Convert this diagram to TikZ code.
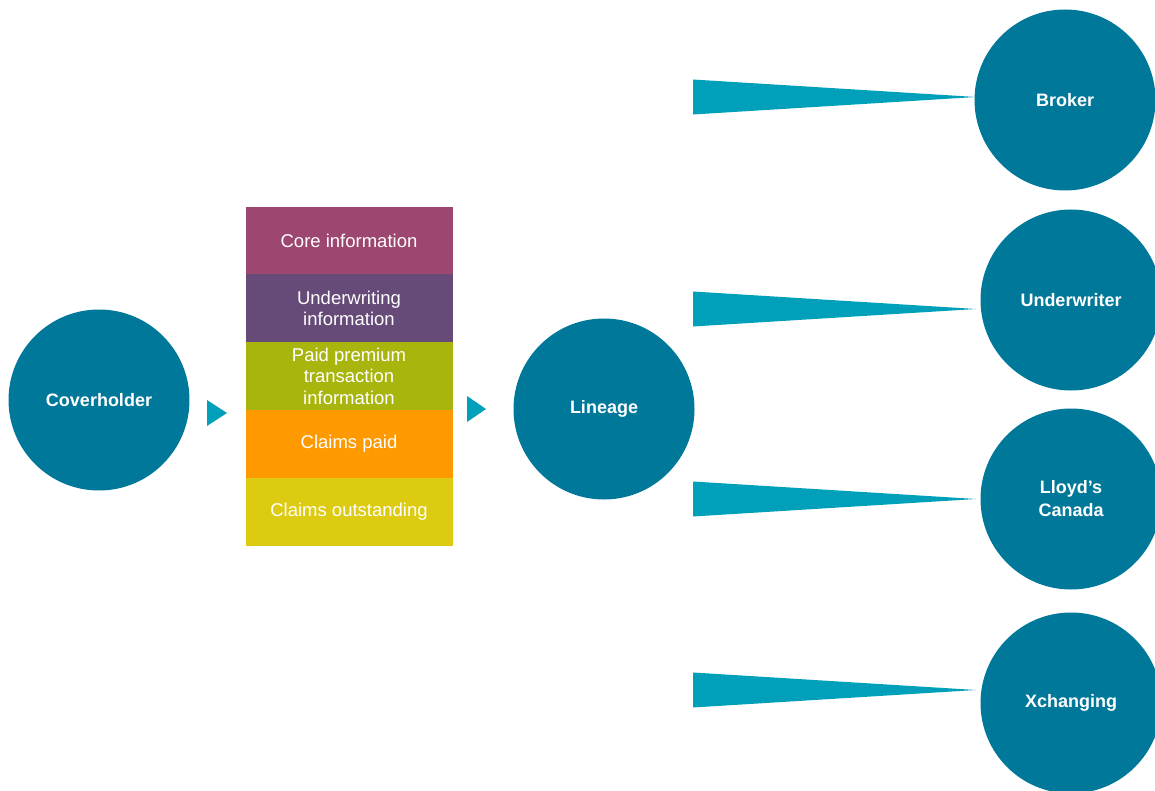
\documentclass[tikz,border=0pt]{standalone}
\usepackage{fontspec}
\setmainfont{Liberation Sans}
\usetikzlibrary{positioning}
\definecolor{partyteal}{HTML}{00789A}
\definecolor{wedgeteal}{HTML}{00A0BA}
\definecolor{corecol}{HTML}{9D4670}
\definecolor{uwcol}{HTML}{664A77}
\definecolor{premcol}{HTML}{A8B50C}
\definecolor{paidcol}{HTML}{FF9900}
\definecolor{outcol}{HTML}{DDCB12}
\tikzset{
  party/.style={circle, fill=partyteal, text=white, minimum size=181pt, inner sep=0pt,
    align=center, font=\bfseries\fontsize{18}{23}\selectfont},
  layer/.style={rectangle, fill=#1, draw=#1, line width=0.6pt, minimum width=206pt,
    minimum height=67.2pt, inner sep=0pt, text=white, align=center,
    font=\fontsize{18.5}{21.5}\selectfont},
  wedge/.style={fill=wedgeteal},
}
\begin{document}
\begin{tikzpicture}[x=1pt,y=-1pt]
      \clip (0,0) rectangle (1155,791);
      % parties
      \node[party] (coverholder) at (99,400) {Coverholder};
      \node[party] (lineage) at (604,409) {Lineage};
      \node[party] (broker) at (1065,100) {Broker};
      \node[party] (underwriter) at (1071,300) {Underwriter};
      \node[party] (canada) at (1071,499) {Lloyd’s\\Canada};
      \node[party] (xchanging) at (1071,703) {Xchanging};
      % data layers
      \node[layer=corecol] (core) at (349,240.6) {Core information};
      \node[layer=uwcol, below=0pt of core] (uwinfo) {Underwriting\\information};
      \node[layer=premcol, below=0pt of uwinfo] (premium) {Paid premium\\transaction\\information};
      \node[layer=paidcol, below=0pt of premium] (paid) {Claims paid};
      \node[layer=outcol, below=0pt of paid] (outstanding) {Claims outstanding};
      % small arrows
      \fill[wedge] (207,400) -- (227,413) -- (207,426) -- cycle;
      \fill[wedge] (467,396) -- (486,409) -- (467,422) -- cycle;
      % wedges out of lineage
      \coordinate (w1) at (693,97);  \coordinate (t1) at (976,97);
      \coordinate (w2) at (693,309); \coordinate (t2) at (976,309);
      \coordinate (w3) at (693,499); \coordinate (t3) at (976,499);
      \coordinate (w4) at (693,690); \coordinate (t4) at (976,690);
      \fill[wedge] ([yshift=17.5pt]w1) -- (t1) -- ([yshift=-17.5pt]w1) -- cycle;
      \fill[wedge] ([yshift=17.5pt]w2) -- (t2) -- ([yshift=-17.5pt]w2) -- cycle;
      \fill[wedge] ([yshift=17.5pt]w3) -- (t3) -- ([yshift=-17.5pt]w3) -- cycle;
      \fill[wedge] ([yshift=17.5pt]w4) -- (t4) -- ([yshift=-17.5pt]w4) -- cycle;
    \end{tikzpicture}
\end{document}
